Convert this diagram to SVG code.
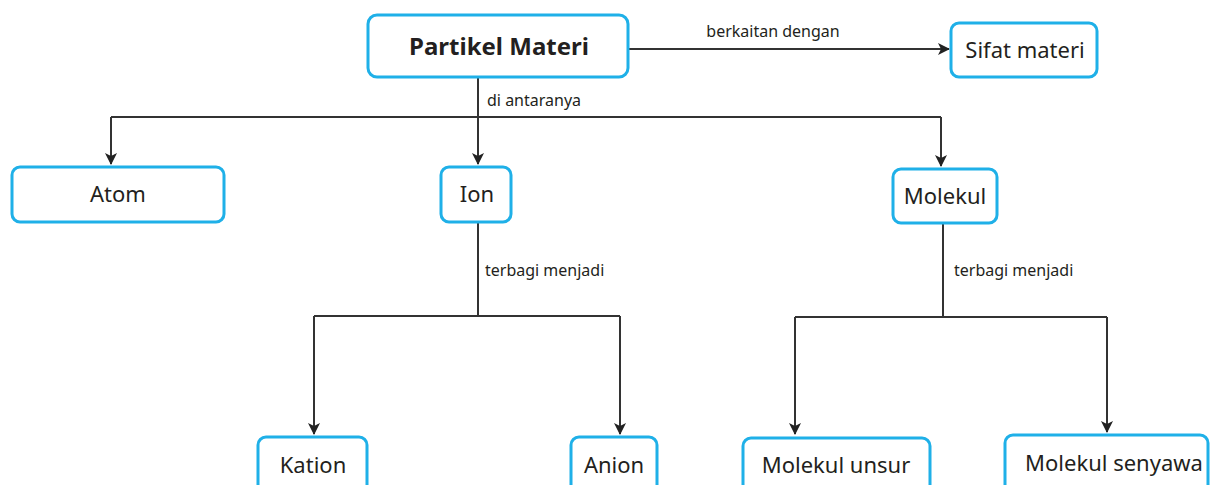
<svg xmlns="http://www.w3.org/2000/svg" width="1210" height="485" viewBox="0 0 1210 485">
<style>
.box{fill:#fff;stroke:#1fb0e8;stroke-width:3}
.t{font-family:"Noto Sans","Open Sans",sans-serif;font-size:22px;fill:#231f20;text-anchor:middle}
.b{font-weight:bold;font-size:24px}
.lbl{font-family:"Noto Sans","Open Sans",sans-serif;font-size:16px;fill:#231f20}
.ln{fill:none;stroke:#333;stroke-width:2}
</style>
<defs>
<marker id="ar" markerWidth="12" markerHeight="12" refX="11" refY="6" orient="auto" markerUnits="userSpaceOnUse">
<path d="M0,0 L12,6 L0,12 L3,6 Z" fill="#222"/>
</marker>
</defs>
<rect width="1210" height="485" fill="#fff"/>
<g id="connectors">
<path class="ln" d="M628,49 H949" marker-end="url(#ar)"/>
<path class="ln" d="M478,77 V117"/>
<path class="ln" d="M111,117 H941"/>
<path class="ln" d="M111,117 V164" marker-end="url(#ar)"/>
<path class="ln" d="M478,117 V164" marker-end="url(#ar)"/>
<path class="ln" d="M941,117 V166" marker-end="url(#ar)"/>
<path class="ln" d="M478,222 V316"/>
<path class="ln" d="M314,316 H620"/>
<path class="ln" d="M314,316 V434" marker-end="url(#ar)"/>
<path class="ln" d="M620,316 V434" marker-end="url(#ar)"/>
<path class="ln" d="M943,223 V317"/>
<path class="ln" d="M795,317 H1107"/>
<path class="ln" d="M795,317 V434" marker-end="url(#ar)"/>
<path class="ln" d="M1107,317 V432" marker-end="url(#ar)"/>
<text class="lbl" x="773" y="37" text-anchor="middle">berkaitan dengan</text>
<text class="lbl" x="487" y="106">di antaranya</text>
<text class="lbl" x="485" y="276">terbagi menjadi</text>
<text class="lbl" x="954" y="276">terbagi menjadi</text>
</g>
<g id="partikel-materi"><rect class="box" x="368" y="15" width="260" height="62" rx="9"/><text class="t b" x="499" y="55">Partikel Materi</text></g>
<g id="sifat-materi"><rect class="box" x="951" y="23" width="146" height="54" rx="8"/><text class="t" x="1025" y="58">Sifat materi</text></g>
<g id="atom"><rect class="box" x="12" y="167" width="212" height="55" rx="8"/><text class="t" x="118" y="202">Atom</text></g>
<g id="ion"><rect class="box" x="441" y="167" width="70" height="55" rx="8"/><text class="t" x="477" y="202">Ion</text></g>
<g id="molekul"><rect class="box" x="893" y="169" width="104" height="54" rx="8"/><text class="t" x="945" y="204">Molekul</text></g>
<g id="kation"><rect class="box" x="258" y="437" width="109" height="60" rx="8"/><text class="t" x="313" y="473">Kation</text></g>
<g id="anion"><rect class="box" x="571" y="437" width="86" height="60" rx="8"/><text class="t" x="614" y="473">Anion</text></g>
<g id="molekul-unsur"><rect class="box" x="743" y="438" width="187" height="60" rx="8"/><text class="t" x="836" y="473">Molekul unsur</text></g>
<g id="molekul-senyawa"><rect class="box" x="1005" y="435" width="203" height="60" rx="8"/><text class="t" x="1114" y="471">Molekul senyawa</text></g>
</svg>
